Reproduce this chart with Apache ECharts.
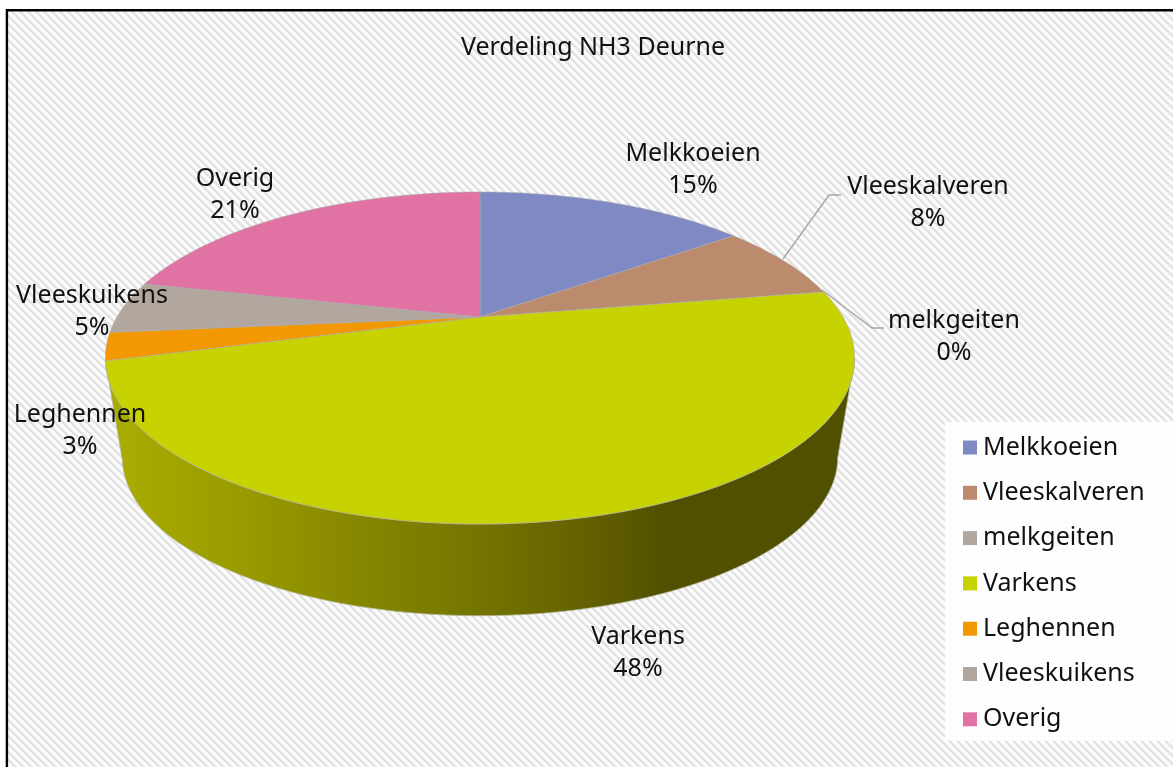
<!DOCTYPE html>
<html><head><meta charset="utf-8">
<style>html,body{margin:0;padding:0;background:#fff}#c{width:1173px;height:767px}</style>
<script src="https://cdn.jsdelivr.net/npm/echarts@6/dist/echarts.min.js"></script>
</head><body><div id="c"></div>
<script>
const titleText = 'Verdeling NH3 Deurne';
const categories = ['Melkkoeien','Vleeskalveren','melkgeiten','Varkens','Leghennen','Vleeskuikens','Overig'];
const shares = [14.8,7.5,0,48.4,2.7,5.1,21.4];
const colors = ['#7F89C4','#BC8B6E','#B1A79E','#C7D300','#F39800','#B1A79E','#E073A4'];
const labelAnchors = [[693,154],[928,187],[954,321],[638,637],[80,415],[92,296],[235,179]];
const wallCategory = 'Varkens';
const FONT = '"Noto Sans"';
const FS = 25;

// perspective disc
const geo = {cx:480, ay:317, a:363, b:155.9, k:0.247, floorScale:0.955, floorAy:418};
const wallFrom = 104.5/180*Math.PI, wallTo = 256/180*Math.PI;
const total = shares.reduce((s,v)=>s+v,0);
function angle(pct){return pct/total*2*Math.PI;}
function topPt(t){const u=Math.sin(t),v=-Math.cos(t),d=1-geo.k*v;return [geo.cx+geo.a*u/d, geo.ay+geo.b*v/d];}
function floorPt(t){const u=Math.sin(t),v=-Math.cos(t),d=1-geo.k*v,s=geo.floorScale;return [geo.cx+s*geo.a*u/d, geo.floorAy+s*geo.b*v/d];}
function arc(fn,t0,t1){const n=Math.max(2,Math.ceil(Math.abs(t1-t0)*60)),p=[];for(let i=0;i<=n;i++)p.push(fn(t0+(t1-t0)*i/n));return p;}

const tile=document.createElement('canvas');tile.width=8;tile.height=8;
const tc=tile.getContext('2d');
const shades=['#e0e0e0','#e3e3e3','#ebebeb','#f8f8f8','#ffffff','#ffffff','#f8f8f8','#ebebeb'];
for(let x=0;x<8;x++)for(let y=0;y<8;y++){tc.fillStyle=shades[((x-y)%8+8)%8];tc.fillRect(x,y,1,1);}

const wallFill=new echarts.graphic.LinearGradient(118,0,840,0,[
 {offset:0,color:'#A9AC00'},{offset:0.16,color:'#9A9C00'},{offset:0.35,color:'#848500'},
 {offset:0.5,color:'#747500'},{offset:0.68,color:'#5F5C00'},{offset:0.76,color:'#505000'},{offset:1,color:'#505000'}],true);

let cum=0;
const series=categories.map((name,i)=>{
  const start=cum; cum+=shares[i];
  return {
    type:'custom',name,coordinateSystem:'none',silent:true,animation:false,
    itemStyle:{color:colors[i]},
    data:[shares[i]],
    renderItem(params,api){
      const t0=angle(start),t1=angle(start+api.value(0));
      const children=[];
      if(name===wallCategory){
        const a=Math.max(t0,wallFrom),b=Math.min(t1,wallTo);
        children.push({type:'polygon',shape:{points:arc(topPt,a,b).concat(arc(floorPt,b,a))},
          style:{fill:wallFill,stroke:'#b5b5a0',lineWidth:0.8}});
      }
      if(t1>t0){
        children.push({type:'polygon',shape:{points:[[geo.cx,geo.ay]].concat(arc(topPt,t0,t1))},
          style:{fill:colors[i],stroke:'rgba(170,170,170,0.7)',lineWidth:0.8}});
      }
      return {type:'group',children};
    }
  };
});

const labels=categories.map((name,i)=>({
  type:'text',z:20,silent:true,x:labelAnchors[i][0],y:labelAnchors[i][1]-16,
  style:{text:name+'\n'+Math.round(shares[i])+'%',fill:'#111',font:FS+'px '+FONT,align:'center',verticalAlign:'top',lineHeight:32}
}));

const chart=echarts.init(document.getElementById('c'),null,{renderer:'canvas'});
chart.setOption({
  animation:false,
  title:{text:titleText,left:593,top:32,textAlign:'center',textStyle:{fontFamily:FONT,fontSize:FS,fontWeight:'normal',color:'#111',lineHeight:32},padding:0},
  legend:{
    orient:'vertical',left:945,top:422,data:categories,icon:'rect',
    itemWidth:14,itemHeight:14,itemGap:14.3,
    padding:[10,30,6,18],backgroundColor:'rgba(255,255,255,0.88)',
    selectedMode:false,
    textStyle:{fontFamily:FONT,fontSize:FS,color:'#111',padding:[0,0,0,1],lineHeight:31}
  },
  graphic:[
    {type:'rect',z:-10,silent:true,shape:{x:6.9,y:10.2,width:1200,height:800},
     style:{fill:{image:tile,repeat:'repeat'},stroke:'#000',lineWidth:2.4}},
    ...labels,
    {type:'polyline',z:15,silent:true,shape:{points:[[783,259],[829,195],[841,195]]},style:{fill:null,stroke:'#a6a6a6',lineWidth:1.4}},
    {type:'polyline',z:15,silent:true,shape:{points:[[822,290],[872,328],[884,328]]},style:{fill:null,stroke:'#a6a6a6',lineWidth:1.4}}
  ],
  series
});
</script></body></html>
